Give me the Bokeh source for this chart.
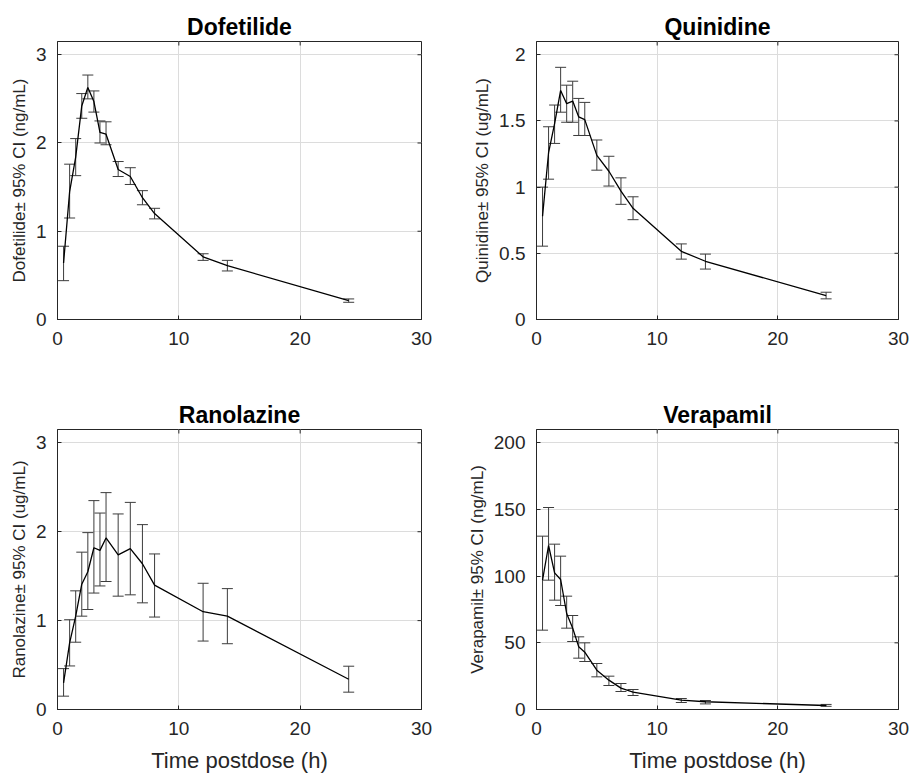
import math
from bokeh.plotting import figure
from bokeh.layouts import column, row
from bokeh.models import ColumnDataSource, Whisker, TeeHead, Range1d, FixedTicker
from bokeh.embed import file_html
from bokeh.resources import INLINE

time_h = [0.5, 1, 1.5, 2, 2.5, 3, 3.5, 4, 5, 6, 7, 8, 12, 14, 24]

dofetilide_mean = [0.64, 1.45, 1.84, 2.42, 2.63, 2.47, 2.12, 2.10, 1.70, 1.62, 1.38, 1.20, 0.71, 0.61, 0.215]
dofetilide_lo = [0.44, 1.15, 1.63, 2.28, 2.50, 2.35, 2.00, 1.98, 1.62, 1.53, 1.30, 1.14, 0.67, 0.55, 0.195]
dofetilide_hi = [0.83, 1.76, 2.05, 2.56, 2.77, 2.59, 2.25, 2.24, 1.79, 1.72, 1.46, 1.26, 0.745, 0.67, 0.233]

quinidine_mean = [0.78, 1.26, 1.48, 1.73, 1.63, 1.65, 1.53, 1.51, 1.24, 1.12, 0.97, 0.84, 0.515, 0.44, 0.18]
quinidine_lo = [0.554, 1.06, 1.33, 1.566, 1.49, 1.49, 1.39, 1.39, 1.128, 1.008, 0.87, 0.754, 0.456, 0.381, 0.156]
quinidine_hi = [1.0, 1.456, 1.62, 1.905, 1.77, 1.80, 1.67, 1.64, 1.356, 1.233, 1.07, 0.927, 0.571, 0.494, 0.206]

ranolazine_mean = [0.30, 0.75, 1.05, 1.41, 1.55, 1.82, 1.79, 1.93, 1.74, 1.81, 1.64, 1.40, 1.10, 1.05, 0.34]
ranolazine_lo = [0.15, 0.49, 0.757, 1.05, 1.125, 1.31, 1.39, 1.44, 1.275, 1.29, 1.20, 1.04, 0.77, 0.74, 0.195]
ranolazine_hi = [0.46, 1.01, 1.335, 1.77, 1.99, 2.35, 2.21, 2.44, 2.20, 2.33, 2.08, 1.75, 1.42, 1.36, 0.487]

verapamil_mean = [97, 123, 102.5, 97.5, 72, 61, 47, 43, 29.5, 22, 16, 13, 7, 5.8, 3.0]
verapamil_lo = [59.5, 97, 82, 78, 61, 51, 38.5, 36, 24.5, 18, 13.5, 10.5, 5.25, 4.2, 2.4]
verapamil_hi = [130, 151.5, 124, 115, 85, 70.5, 54.5, 50, 34.5, 25, 19.5, 15, 8.25, 6.75, 3.8]

x_max = 30
x_ticks = [0, 10, 20, 30]
dof_ticks = [0, 1, 2, 3]
qui_ticks = [0, 0.5, 1, 1.5, 2]
ran_ticks = [0, 1, 2, 3]
ver_ticks = [0, 50, 100, 150, 200]

FONT = "Liberation Sans"
AX = "#262626"


def fmt(v):
    return str(int(v)) if float(v).is_integer() else str(v)


def panel(title, ylabel, mean, lo, hi, ymax, yticks, xlabel, width, height,
          bl, br, bt, bb):
    p = figure(width=width, height=height, output_backend="svg", toolbar_location=None,
               x_range=Range1d(0, x_max), y_range=Range1d(0, ymax),
               min_border_left=bl, min_border_right=br, min_border_top=bt,
               min_border_bottom=bb)
    p.title.text = title
    p.title.text_font = FONT
    p.title.text_font_size = "23px"
    p.title.text_font_style = "bold"
    p.title.text_color = "#000000"
    p.title.align = "center"
    p.title.standoff = 4
    p.outline_line_color = AX
    p.outline_line_width = 1
    p.background_fill_color = "white"
    p.border_fill_color = "white"

    p.xgrid.ticker = FixedTicker(ticks=x_ticks)
    p.ygrid.ticker = FixedTicker(ticks=yticks)
    for g in (p.xgrid[0], p.ygrid[0]):
        g.grid_line_color = "#dcdcdc"
        g.grid_line_width = 1

    # mirrored inward ticks on the top and right edges (box on)
    p.ray(x=x_ticks, y=[ymax] * len(x_ticks), length=4, length_units="screen",
          angle=-math.pi / 2, line_color=AX, line_width=1)
    p.ray(x=[x_max] * len(yticks), y=yticks, length=4, length_units="screen",
          angle=math.pi, line_color=AX, line_width=1)

    src = ColumnDataSource(dict(t=time_h, m=mean, lo=lo, hi=hi))
    wh = Whisker(base="t", upper="hi", lower="lo", source=src, dimension="height",
                 line_color="#3c3c3c", line_width=1,
                 upper_head=TeeHead(size=11, line_color="#3c3c3c", line_width=1),
                 lower_head=TeeHead(size=11, line_color="#3c3c3c", line_width=1))
    p.add_layout(wh)
    p.line("t", "m", source=src, line_color="#000000", line_width=1.3)

    for ax in (p.xaxis[0], p.yaxis[0]):
        ax.axis_line_color = AX
        ax.major_tick_line_color = AX
        ax.major_tick_in = 4
        ax.major_tick_out = 0
        ax.minor_tick_line_color = None
        ax.major_label_text_font = FONT
        ax.major_label_text_font_size = "19px"
        ax.major_label_text_color = AX
        ax.axis_label_text_font = FONT
        ax.axis_label_text_font_style = "normal"
        ax.axis_label_text_color = AX
    p.xaxis[0].ticker = FixedTicker(ticks=x_ticks)
    p.yaxis[0].ticker = FixedTicker(ticks=yticks)
    p.xaxis[0].major_label_standoff = 12
    p.yaxis[0].major_label_standoff = 11
    p.yaxis[0].major_label_overrides = {v: fmt(v) for v in yticks}
    p.xaxis[0].major_label_overrides = {v: fmt(v) for v in x_ticks}
    p.yaxis[0].axis_label = ylabel
    p.yaxis[0].axis_label_text_font_size = "17px"
    p.yaxis[0].axis_label_standoff = 4
    if xlabel:
        p.xaxis[0].axis_label = xlabel
        p.xaxis[0].axis_label_text_font_size = "22px"
        p.xaxis[0].axis_label_standoff = 10
    return p


p1 = panel("Dofetilide", "Dofetilide\u00b1 95% CI (ng/mL)", dofetilide_mean, dofetilide_lo,
           dofetilide_hi, 3.15, dof_ticks, None, 461, 369, 57, 40, 41, 50)
p2 = panel("Quinidine", "Quinidine\u00b1 95% CI (ug/mL)", quinidine_mean, quinidine_lo,
           quinidine_hi, 2.1, qui_ticks, None, 449, 369, 75, 12, 41, 50)
p3 = panel("Ranolazine", "Ranolazine\u00b1 95% CI (ug/mL)", ranolazine_mean, ranolazine_lo,
           ranolazine_hi, 3.15, ran_ticks, "Time postdose (h)", 461, 409, 57, 40, 60, 69)
p4 = panel("Verapamil", "Verapamil\u00b1 95% CI (ng/mL)", verapamil_mean, verapamil_lo,
           verapamil_hi, 210, ver_ticks, "Time postdose (h)", 449, 409, 75, 12, 60, 69)

layout = column(row(p1, p2), row(p3, p4))
open("out.html", "w").write(file_html(layout, INLINE))
